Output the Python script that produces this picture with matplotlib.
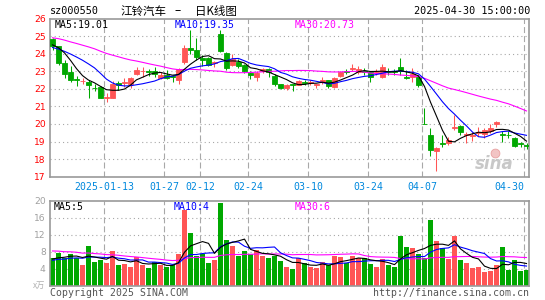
import matplotlib.pyplot as plt
import numpy as np
import pandas as pd

plt.rcParams['font.family'] = ['DejaVu Sans Mono', 'Noto Sans CJK SC']
plt.rcParams['lines.scale_dashes'] = False

# 日期刻度 (K线序号 -> 标签)
tick_idx = [9, 19, 25, 33, 43, 53, 62, 79]
tick_lab = ['2025-01-13', '01-27', '02-12', '02-24', '03-10', '03-24', '04-07', '04-30']

# 2024-12-30 ~ 2025-04-30 日K
opens = [24.85, 24.43, 23.48, 22.96, 22.58, 22.44, 22.40, 22.07, 22.10, 21.50,
         21.50, 22.35, 22.35, 22.25, 22.83, 23.00, 23.00, 23.00, 22.64, 22.77,
         22.75, 22.50, 23.53, 24.30, 24.20, 23.75, 23.75, 23.45, 25.10, 24.05,
         23.38, 23.53, 23.34, 22.90, 22.68, 23.00, 23.15, 22.73, 22.30, 22.05,
         22.25, 22.24, 22.37, 22.33, 22.22, 22.36, 22.50, 22.10, 22.73, 23.00,
         23.15, 22.96, 23.00, 22.96, 22.96, 22.68, 23.00, 23.00, 23.25, 22.66,
         22.68, 22.68, 20.00, 19.40, 18.49, 18.90, 18.90, 19.76, 19.88, 19.38,
         19.30, 19.50, 19.45, 19.60, 19.97, 19.45, 19.40, 19.22, 18.90, 18.80]
highs = [24.90, 24.45, 23.62, 23.30, 22.75, 22.60, 22.50, 22.25, 22.15, 21.75,
         22.45, 22.45, 22.60, 22.70, 23.25, 23.25, 23.15, 23.25, 22.95, 23.05,
         22.80, 23.20, 24.50, 25.35, 24.90, 23.90, 23.80, 23.60, 25.35, 24.10,
         24.00, 23.70, 23.40, 23.00, 23.00, 23.20, 23.20, 22.85, 22.30, 22.25,
         22.30, 22.50, 22.50, 22.50, 22.30, 22.70, 22.50, 22.70, 23.00, 23.10,
         23.40, 23.30, 23.20, 23.00, 23.10, 23.40, 23.20, 23.10, 23.75, 23.05,
         23.20, 22.80, 20.90, 19.75, 18.70, 19.40, 19.25, 20.49, 19.95, 19.55,
         19.55, 19.85, 19.75, 20.00, 20.15, 19.60, 19.60, 19.25, 19.00, 18.90]
lows = [24.20, 23.35, 22.62, 22.40, 22.15, 22.30, 21.50, 21.90, 21.45, 21.25,
        21.45, 21.95, 22.10, 22.05, 22.80, 22.70, 22.75, 22.70, 22.55, 22.55,
        22.40, 22.30, 23.40, 24.00, 23.63, 23.30, 23.30, 23.25, 24.10, 23.05,
        23.30, 23.20, 22.90, 22.55, 22.45, 22.90, 22.70, 22.15, 22.00, 21.95,
        21.90, 22.20, 22.20, 22.20, 22.05, 22.30, 22.05, 22.05, 22.70, 22.85,
        23.00, 22.85, 22.80, 22.40, 22.80, 22.60, 22.80, 22.80, 22.80, 22.55,
        22.40, 22.10, 19.98, 18.20, 17.30, 18.70, 18.80, 19.63, 19.40, 18.93,
        19.05, 19.30, 19.20, 19.50, 19.80, 18.95, 19.20, 18.70, 18.70, 18.60]
closes = [24.45, 23.48, 22.83, 22.49, 22.49, 22.47, 22.20, 22.05, 21.48, 21.55,
          22.30, 22.20, 22.40, 22.60, 23.06, 23.02, 22.96, 22.83, 22.80, 22.64,
          22.65, 23.15, 24.35, 24.22, 23.82, 23.65, 23.38, 23.50, 24.14, 23.20,
          23.72, 23.29, 23.00, 22.77, 22.92, 23.15, 22.96, 22.26, 22.07, 22.20,
          22.22, 22.43, 22.33, 22.36, 22.26, 22.50, 22.16, 22.62, 22.96, 22.96,
          23.20, 23.12, 22.96, 22.68, 23.00, 23.25, 22.96, 22.96, 23.00, 22.63,
          22.87, 22.20, 19.98, 18.52, 18.64, 18.85, 19.10, 19.80, 19.53, 19.42,
          19.35, 19.55, 19.67, 19.75, 20.10, 19.40, 19.35, 18.77, 18.85, 18.75]
# 成交量(万手)
vols = [6.6, 7.8, 6.5, 7.5, 6.6, 4.9, 9.4, 5.5, 6.1, 5.4,
        8.2, 4.9, 5.1, 4.5, 6.8, 5.0, 4.2, 5.6, 4.9, 4.3,
        4.9, 7.5, 17.9, 12.4, 6.9, 7.4, 5.4, 6.1, 19.5, 10.8,
        9.4, 7.1, 8.2, 7.4, 8.4, 7.1, 6.6, 6.9, 5.8, 4.3,
        3.9, 6.5, 5.3, 4.3, 4.1, 5.5, 4.9, 7.1, 6.8, 5.3,
        7.0, 6.5, 6.6, 5.1, 4.3, 6.3, 4.9, 4.3, 11.8, 9.2,
        8.8, 7.6, 6.5, 15.5, 10.6, 8.8, 6.2, 11.8, 6.1, 5.3,
        4.1, 4.3, 3.3, 3.5, 5.0, 9.2, 3.7, 6.1, 3.5, 3.7]

# 图中第一根K线之前的29天(不显示, 按均线起点估计, 只用来算MA)
pre_close = [25.0, 25.3, 25.5, 25.2, 25.4, 25.1, 25.3, 25.6, 25.4, 25.2,
             25.0, 25.3, 25.1, 24.9, 25.2, 25.3, 25.0, 24.8, 25.1, 24.9,
             24.4, 24.1, 24.0, 24.2, 24.3, 24.3, 24.3, 24.6, 24.85]
pre_vol = [9.0, 10.5, 8.2, 9.8, 11.0, 8.5, 9.6, 8.8, 10.2, 9.1,
           8.7, 9.9, 8.4, 10.1, 9.3, 8.9, 9.7, 8.6, 9.5, 8.2,
           5.5, 6.0, 5.4, 5.9, 5.7, 6.4, 5.8, 6.3, 6.4]

RED = '#ff5555'
GREEN = '#00a800'
GRID = '#a8a8a8'
W, H = 545, 300

n = len(closes)
x = np.arange(n)
o = np.array(opens)
c = np.array(closes)
colors = np.where(c >= o, RED, GREEN)

c_all = pd.Series(pre_close + closes)
v_all = pd.Series(pre_vol + vols)
ma = {k: c_all.rolling(k).mean().values[-n:] for k in (5, 10, 30)}
vma = {k: v_all.rolling(k).mean().values[-n:] for k in (5, 10, 30)}
ma_col = {5: 'black', 10: '#0000ff', 30: '#ff00ff'}


def box(l, t, r, b):
    return [l / W, 1 - b / H, (r - l) / W, (b - t) / H]


def ftext(px, py, s, **kw):
    fig.text(px / W, 1 - py / H, s, **kw)


fig = plt.figure(figsize=(W / 100, H / 100), dpi=100)
ax1 = fig.add_axes(box(50, 18.5, 529, 176.7))
ax2 = fig.add_axes(box(50, 201, 529, 285.7))

x0 = -2.5 / 6  # 左边框到第一根K线中心
for ax in (ax1, ax2):
    ax.set_xlim(x0, (529 - 52.5) / 6)
    ax.set_xticks([])
    for s in ax.spines.values():
        s.set_color('#999999')
        s.set_linewidth(1.2)
    for i in tick_idx:
        ax.axvline(i + x0, color=GRID, lw=0.8, ls=(0, (4.3, 2.2)), zorder=0)

# 价格
ax1.set_ylim(17, 26)
for yv in range(18, 26):
    ax1.axhline(yv, color=GRID, lw=0.8, ls=(0, (0.8, 2.2)), zorder=0)
ax1.set_yticks(range(17, 27))
ax1.tick_params(axis='y', length=0, pad=3, labelcolor='red', labelsize=6.6)
for t in ax1.get_yticklabels():
    t.set_family('DejaVu Sans')

# 水印
ax1.text(0.968, 0.025, 'sina', transform=ax1.transAxes, fontsize=12,
         ha='right', va='bottom', color='#c8c8c8', style='italic',
         weight='bold', family='DejaVu Sans', zorder=1)
ax1.scatter([0.93], [0.15], s=40, transform=ax1.transAxes, color='#f2c4c4',
            edgecolors='#e8a0a0', linewidths=0.6, zorder=1)

ax1.vlines(x, lows, highs, colors=colors, lw=0.75, zorder=2)
ax1.bar(x, np.abs(c - o), bottom=np.minimum(o, c), width=0.8,
        color=colors, edgecolor=colors, linewidth=0.6, zorder=3)
for k in (30, 10, 5):
    ax1.plot(x, ma[k], color=ma_col[k], lw=0.8, zorder=4)

for i, lab in zip(tick_idx, tick_lab):
    ax1.text(i + x0, -0.065, lab, transform=ax1.get_xaxis_transform(),
             color='#0088dd', fontsize=7.1, va='center',
             ha='right' if lab == tick_lab[-1] else 'center')

# 成交量
ax2.set_ylim(0, 20)
for yv in (4, 8, 12, 16):
    ax2.axhline(yv, color=GRID, lw=0.8, ls=(0, (0.8, 2.2)), zorder=0)
ax2.set_yticks([4, 8, 12, 16, 20])
ax2.tick_params(axis='y', length=0, pad=3, labelcolor='#a0a0a0', labelsize=6.6)
for t in ax2.get_yticklabels():
    t.set_family('DejaVu Sans')
ax2.bar(x, vols, width=0.8, color=colors, linewidth=0, zorder=2)
for k in (30, 10, 5):
    ax2.plot(x, vma[k], color=ma_col[k], lw=0.8, zorder=4)

# 文字
cjk = ['Noto Sans CJK SC', 'DejaVu Sans']
ftext(50, 11, 'sz000550', fontsize=7.3, va='center')
ftext(121, 11, '江铃汽车', fontsize=8.3, va='center', family=cjk)
ftext(177.5, 11, '–', fontsize=8.3, va='center', ha='center', family=cjk)
ftext(195, 11, '日K线图', fontsize=8.3, va='center', family=cjk)
ftext(530, 11, '2025-04-30 15:00:00', fontsize=7.3, va='center', ha='right')

ftext(55, 25, 'MA5:19.01', fontsize=7.1, va='center', color='black')
ftext(175, 25, 'MA10:19.35', fontsize=7.1, va='center', color='#0000ff')
ftext(295, 25, 'MA30:20.73', fontsize=7.1, va='center', color='#ff00ff')

ftext(54, 207, 'MA5:5', fontsize=7.1, va='center', color='black')
ftext(174, 207, 'MA10:4', fontsize=7.1, va='center', color='#0000ff')
ftext(295, 207, 'MA30:6', fontsize=7.1, va='center', color='#ff00ff')

ftext(45, 285, 'x万', fontsize=6, va='center', ha='right', color='#b0b0b0', family=cjk)
ftext(50, 293, 'Copyright 2025 SINA.COM', fontsize=7.1, va='center', color='#555555')
ftext(529, 293, 'http://finance.sina.com.cn', fontsize=7.1, va='center',
      ha='right', color='#555555')

fig.savefig('out.png', dpi=100)
